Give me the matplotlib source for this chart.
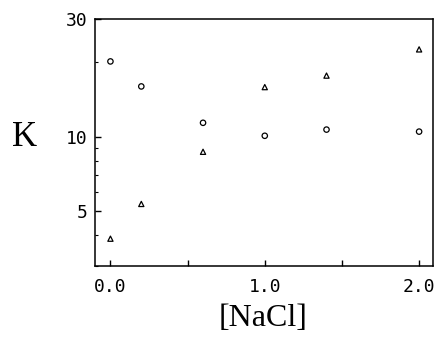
import matplotlib
matplotlib.use("Agg")
import matplotlib.pyplot as plt
from matplotlib.ticker import FixedLocator, FixedFormatter, LogLocator, NullFormatter

# K vs [NaCl], two series
nacl_circles = [0.0, 0.2, 0.6, 1.0, 1.4, 2.0]
k_circles = [20.2, 16.0, 11.4, 10.1, 10.7, 10.5]

nacl_triangles = [0.0, 0.2, 0.6, 1.0, 1.4, 2.0]
k_triangles = [3.87, 5.35, 8.7, 15.9, 17.7, 22.6]

x_ticks = [0.0, 0.5, 1.0, 1.5, 2.0]
x_ticklabels = ["0.0", "", "1.0", "", "2.0"]
y_ticks = [5, 10, 30]
y_ticklabels = ["5", "10", "30"]

fig = plt.figure(figsize=(4.38, 3.39), dpi=100)
ax = fig.add_axes([95 / 438, 1 - 266 / 339, (433 - 95) / 438, (266 - 19) / 339])

ax.scatter(nacl_circles, k_circles, marker="o", s=15, facecolors="none",
           edgecolors="black", linewidths=0.9)
ax.scatter(nacl_triangles, k_triangles, marker="^", s=14, facecolors="none",
           edgecolors="black", linewidths=0.9)

ax.set_yscale("log")
ax.set_xlim(-0.1, 2.09)
ax.set_ylim(3, 30)

ax.xaxis.set_major_locator(FixedLocator(x_ticks))
ax.xaxis.set_major_formatter(FixedFormatter(x_ticklabels))
ax.yaxis.set_major_locator(FixedLocator(y_ticks))
ax.yaxis.set_major_formatter(FixedFormatter(y_ticklabels))
ax.yaxis.set_minor_locator(LogLocator(base=10, subs=range(2, 10)))
ax.yaxis.set_minor_formatter(NullFormatter())

ax.tick_params(axis="both", which="major", direction="in", length=4, width=1,
               labelsize=13)
ax.tick_params(axis="x", pad=9)
ax.tick_params(axis="y", pad=5)
ax.tick_params(axis="y", which="minor", direction="in", length=2, width=0.8)
for lab in ax.get_xticklabels() + ax.get_yticklabels():
    lab.set_family("DejaVu Sans Mono")

for s in ax.spines.values():
    s.set_linewidth(1.1)

fig.text(12 / 438, 1 - 137 / 339, "K", fontsize=25, family="Liberation Serif",
         ha="left", va="center")
fig.text(263 / 438, 1 - 318 / 339, "[NaCl]", fontsize=23,
         family="Liberation Serif", ha="center", va="center")

fig.savefig("out.png", dpi=100)
